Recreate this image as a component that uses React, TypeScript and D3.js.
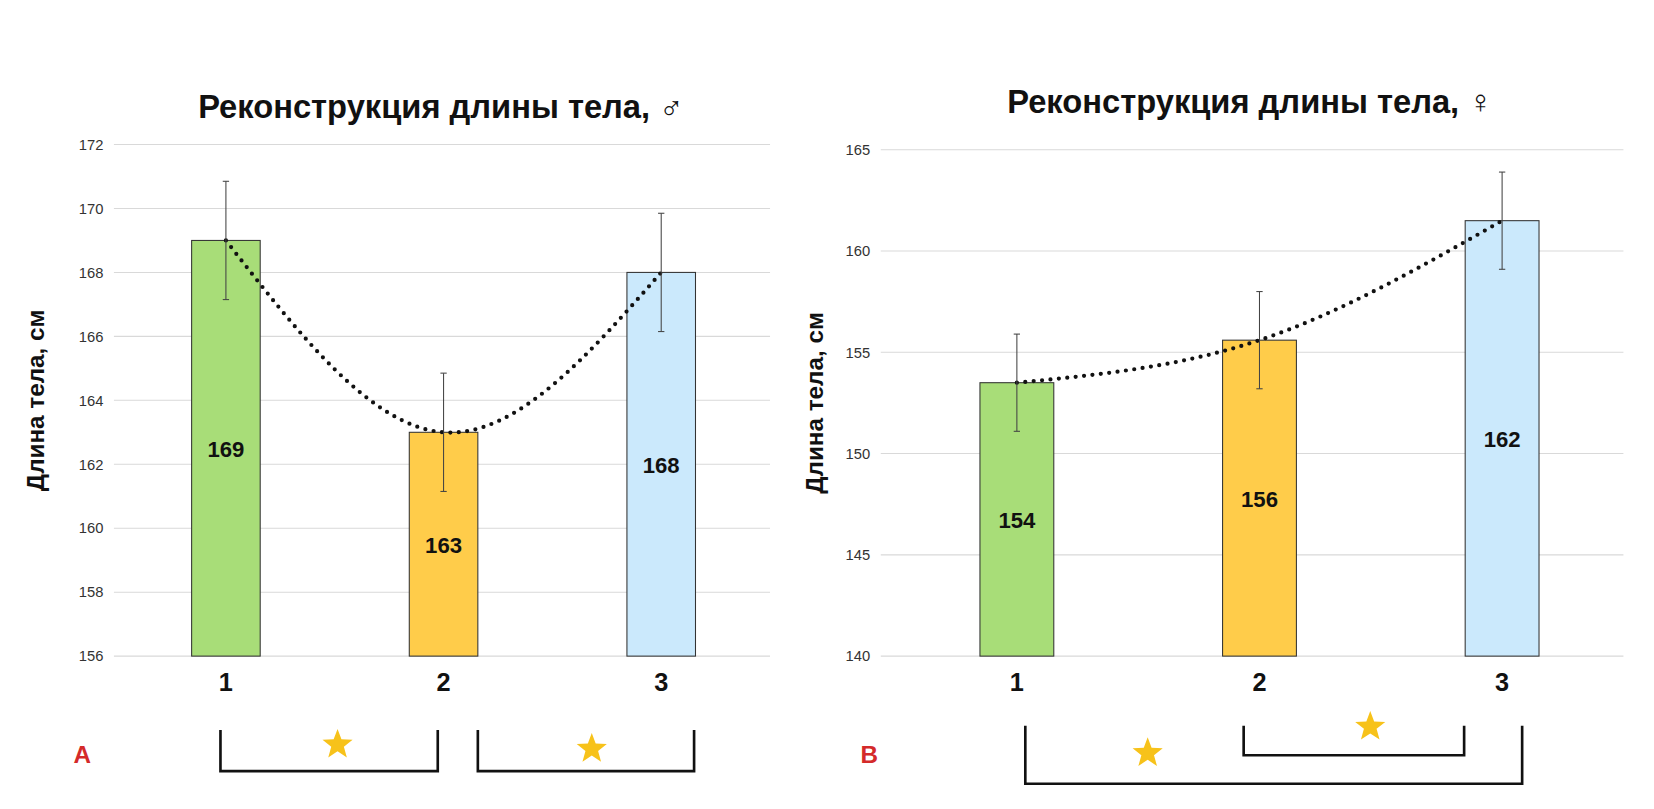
import * as d3 from "d3";

const categories = ["1", "2", "3"];
const maleValues = [169, 163, 168];
const maleErrors = [1.85, 1.85, 1.85];
const maleLabels = ["169", "163", "168"];
const maleTicks = [156, 158, 160, 162, 164, 166, 168, 170, 172];
const femaleValues = [153.5, 155.6, 161.5];
const femaleErrors = [2.4, 2.4, 2.4];
const femaleLabels = ["154", "156", "162"];
const femaleTicks = [140, 145, 150, 155, 160, 165];
const barColors = ["#a8dd78", "#ffcc4a", "#cbe9fc"];

const W = 1654;
const H = 809;
// layout measured on a 1568-wide copy; scale to full size
const K = 1654 / 1568;

type PanelProps = {
  title: string;
  values: number[];
  errors: number[];
  labels: string[];
  ticks: number[];
  x0: number;
  x1: number;
  y0: number;
  y1: number;
  barW: number;
  gridX0: number;
  axisLabelX: number;
  titleX: number;
  titleY: number;
};

function Panel(p: PanelProps) {
  const x = d3.scaleBand().domain(categories).range([p.x0, p.x1]);
  const y = d3
    .scaleLinear()
    .domain([p.ticks[0], p.ticks[p.ticks.length - 1]])
    .range([p.y0, p.y1]);
  const cx = (i: number) => (x(categories[i]) as number) + x.bandwidth() / 2;
  const curve = d3
    .line<number>()
    .x((_, i) => cx(i))
    .y((v) => y(v))
    .curve(d3.curveNatural)(p.values);
  return (
    <g>
      <text x={p.titleX} y={p.titleY} textAnchor="middle" fontFamily="Liberation Sans, Arial" fontWeight="bold" fontSize={31} fill="#111">
        {p.title}
      </text>
      {p.ticks.map((t) => (
        <g key={t}>
          <line x1={p.gridX0} x2={p.x1} y1={y(t)} y2={y(t)} stroke="#d9d9d9" strokeWidth={1} />
          <text x={p.gridX0 - 10} y={y(t) + 5} textAnchor="end" fontFamily="Liberation Sans, Arial" fontSize={14} fill="#333">
            {t}
          </text>
        </g>
      ))}
      <text
        transform={`translate(${p.axisLabelX},${(p.y0 + p.y1) / 2}) rotate(-90)`}
        textAnchor="middle"
        fontFamily="Liberation Sans, Arial"
        fontWeight="bold"
        fontSize={23}
        fill="#111"
      >
        Длина тела, см
      </text>
      {p.values.map((v, i) => (
        <g key={i}>
          <rect x={cx(i) - p.barW / 2} y={y(v)} width={p.barW} height={y(p.ticks[0]) - y(v)} fill={barColors[i]} stroke="#333" strokeWidth={1} />
          <text x={cx(i)} y={(y(v) + p.y0) / 2 + 8} textAnchor="middle" fontFamily="Liberation Sans, Arial" fontWeight="bold" fontSize={21} fill="#111">
            {p.labels[i]}
          </text>
          <text x={cx(i)} y={p.y0 + 33} textAnchor="middle" fontFamily="Liberation Sans, Arial" fontWeight="bold" fontSize={24} fill="#111">
            {categories[i]}
          </text>
        </g>
      ))}
      <path d={curve || ""} fill="none" stroke="#111" strokeWidth={4} strokeDasharray="0 8" strokeLinecap="round" />
      {p.values.map((v, i) => (
        <g key={"e" + i} stroke="#444" strokeWidth={1}>
          <line x1={cx(i)} x2={cx(i)} y1={y(v + p.errors[i])} y2={y(v - p.errors[i])} />
          <line x1={cx(i) - 3} x2={cx(i) + 3} y1={y(v + p.errors[i])} y2={y(v + p.errors[i])} />
          <line x1={cx(i) - 3} x2={cx(i) + 3} y1={y(v - p.errors[i])} y2={y(v - p.errors[i])} />
        </g>
      ))}
    </g>
  );
}

function Star({ x, y, r }: { x: number; y: number; r: number }) {
  const pts = d3.range(10).map((k) => {
    const a = -Math.PI / 2 + (k * Math.PI) / 5;
    const rr = k % 2 === 0 ? r : r * 0.42;
    return [x + rr * Math.cos(a), y + rr * Math.sin(a)].join(",");
  });
  return <polygon points={pts.join(" ")} fill="#f7c21a" />;
}

function Bracket({ x0, x1, yTop, yBot }: { x0: number; x1: number; yTop: number; yBot: number }) {
  return <path d={`M${x0},${yTop}V${yBot}H${x1}V${yTop}`} fill="none" stroke="#111" strokeWidth={2.5} />;
}

export default function App() {
  return (
    <svg width={W} height={H} style={{ display: "block", background: "#fff", position: "absolute", left: 0, top: 0 }}>
      <g transform={`scale(${K})`}>
        <Panel
          title="Реконструкция длины тела, ♂"
          values={maleValues}
          errors={maleErrors}
          labels={maleLabels}
          ticks={maleTicks}
          x0={111}
          x1={730}
          y0={622}
          y1={137}
          barW={65}
          gridX0={108}
          axisLabelX={42}
          titleX={418}
          titleY={112}
        />
        <Panel
          title="Реконструкция длины тела, ♀"
          values={femaleValues}
          errors={femaleErrors}
          labels={femaleLabels}
          ticks={femaleTicks}
          x0={849}
          x1={1539}
          y0={622}
          y1={142}
          barW={70}
          gridX0={835}
          axisLabelX={780}
          titleX={1185}
          titleY={107}
        />
        <text x={78} y={723} textAnchor="middle" fontFamily="Liberation Sans, Arial" fontWeight="bold" fontSize={23} fill="#d42a2a">А</text>
        <text x={824} y={723} textAnchor="middle" fontFamily="Liberation Sans, Arial" fontWeight="bold" fontSize={23} fill="#d42a2a">В</text>
        <Bracket x0={209} x1={415} yTop={692} yBot={731} />
        <Bracket x0={453} x1={658} yTop={692} yBot={731} />
        <Star x={320} y={706} r={15} />
        <Star x={561} y={710} r={15} />
        <Bracket x0={972} x1={1443} yTop={688} yBot={743} />
        <Bracket x0={1179} x1={1388} yTop={688} yBot={716} />
        <Star x={1088} y={714} r={15} />
        <Star x={1299} y={689} r={15} />
      </g>
    </svg>
  );
}
